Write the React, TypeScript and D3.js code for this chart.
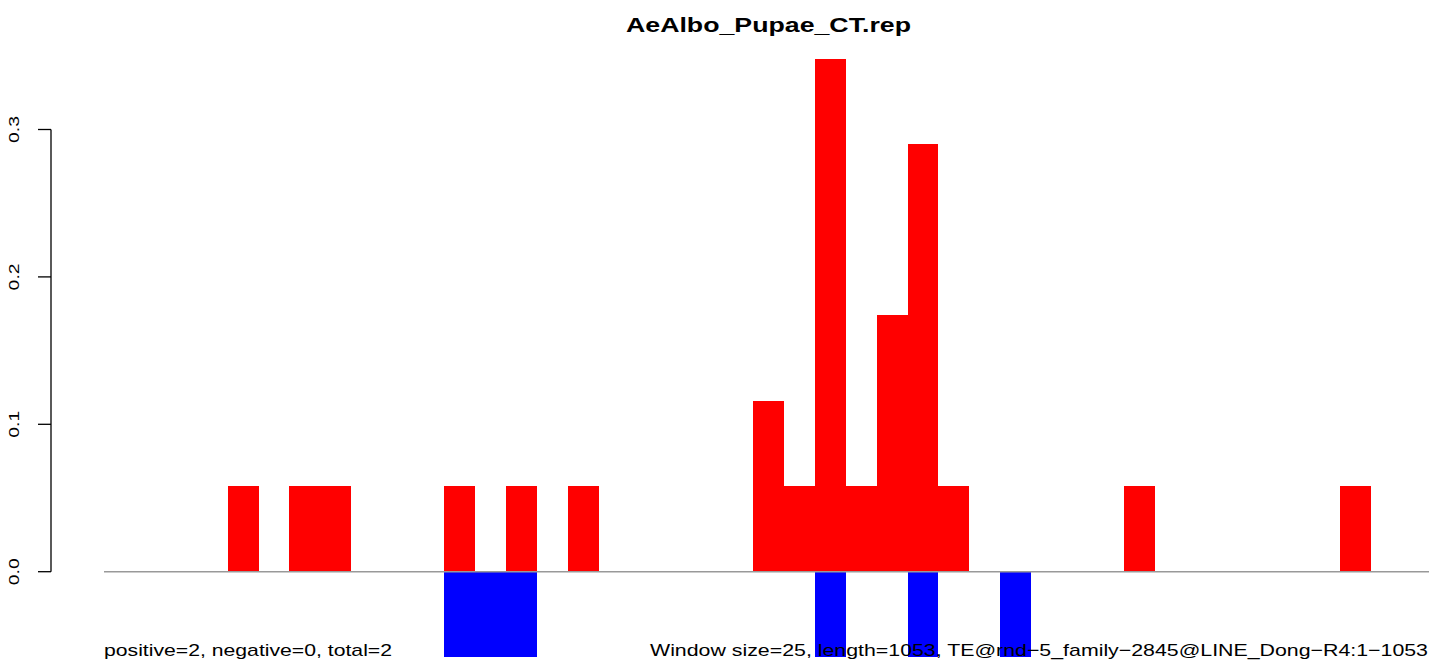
import * as d3 from 'd3';

const title = 'AeAlbo_Pupae_CT.rep';
const windowSize = 25;
const seqLength = 1053;
const posStarts = [100, 150, 175, 275, 325, 375, 525, 550, 575, 600, 625, 650, 675, 825, 1000];
const posValues = [0.058, 0.058, 0.058, 0.058, 0.058, 0.058, 0.116, 0.058, 0.348, 0.058, 0.174, 0.29, 0.058, 0.058, 0.058];
const negStarts = [275, 300, 325, 575, 650, 725];
const negValues = [-0.058, -0.058, -0.058, -0.058, -0.058, -0.058];
const yTicks = [0, 0.1, 0.2, 0.3];
const leftNote = 'positive=2, negative=0, total=2';
const rightNote = 'Window size=25, length=1053, TE@rnd\u22125_family\u22122845@LINE_Dong\u2212R4:1\u22121053';

const W = 1429;
const H = 662;
const font = 'Liberation Sans, Arial, Helvetica, sans-serif';

export default function App() {
  const nBins = Math.ceil(seqLength / windowSize);
  const x = d3.scaleLinear().domain([0, nBins * windowSize]).range([104, 1433]);
  const y = d3.scaleLinear().domain([0, 0.3]).range([571.7, 129.5]);
  const bw = x(windowSize) - x(0);

  const pos = posStarts.map((s, i) => ({ s, v: posValues[i] }));
  const neg = negStarts.map((s, i) => ({ s, v: negValues[i] }));

  // R's text comes out wider than the font would give, so stretch it to the measured widths
  return (
    <svg width={W} height={H} style={{ position: 'absolute', left: 0, top: 0, background: '#fff' }} fontFamily={font}>
      <text x={626} y={32} fontWeight="bold" fontSize={19.5} textLength={285} lengthAdjust="spacingAndGlyphs">{title}</text>

      {pos.map((d, i) => (
        <rect key={'p' + i} x={x(d.s)} y={y(d.v)} width={bw} height={y(0) - y(d.v)} fill="#ff0000" shapeRendering="crispEdges" />
      ))}
      {neg.map((d, i) => (
        <rect key={'n' + i} x={x(d.s)} y={y(0)} width={bw} height={y(d.v) - y(0)} fill="#0000ff" shapeRendering="crispEdges" />
      ))}

      <line x1={104} x2={W} y1={y(0)} y2={y(0)} stroke="#999" strokeWidth={1.5} />

      <g>
        <line x1={51} x2={51} y1={y(0.3)} y2={y(0)} stroke="#000" strokeWidth={1.3} />
        {yTicks.map((t) => (
          <g key={t}>
            <line x1={38} x2={51} y1={y(t)} y2={y(t)} stroke="#000" strokeWidth={1.3} />
            <text transform={`translate(19,${y(t) + 13.5}) rotate(-90)`} fontSize={15} textLength={27} lengthAdjust="spacingAndGlyphs">{t.toFixed(1)}</text>
          </g>
        ))}
      </g>

      <text x={104} y={656} fontSize={17} textLength={288} lengthAdjust="spacingAndGlyphs">{leftNote}</text>
      <text x={650} y={656} fontSize={17} textLength={778} lengthAdjust="spacingAndGlyphs">{rightNote}</text>
    </svg>
  );
}
